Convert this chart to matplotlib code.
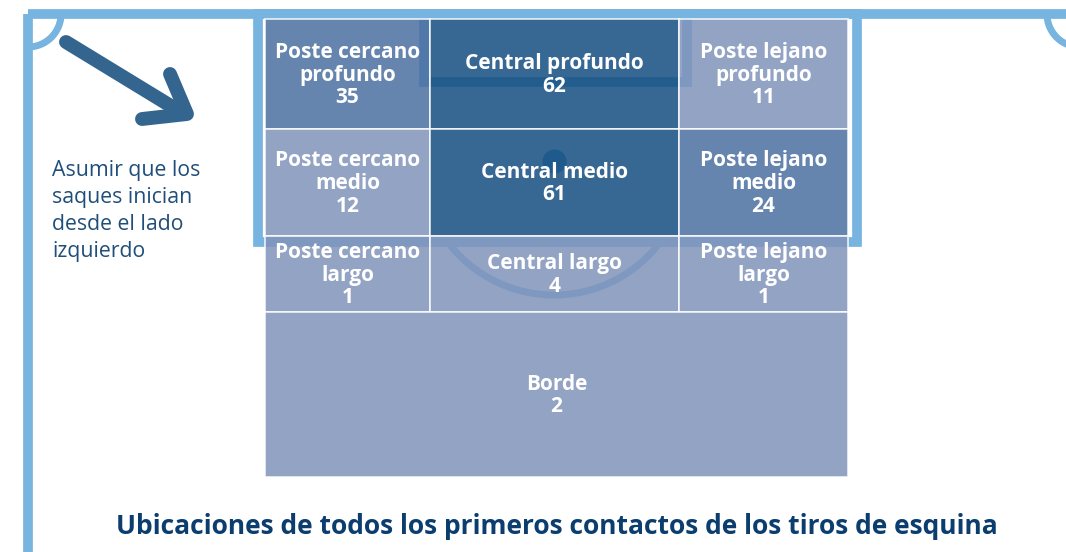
import numpy as np
import matplotlib.pyplot as plt
from matplotlib.patches import Rectangle
from matplotlib.colors import ListedColormap, BoundaryNorm

# ----------------------------------------------------
# Data: first contact zones of corner kicks
# ----------------------------------------------------

zone_names = [
    "Poste cercano\nprofundo", "Central profundo", "Poste lejano\nprofundo",
    "Poste cercano\nmedio", "Central medio", "Poste lejano\nmedio",
    "Poste cercano\nlargo", "Central largo", "Poste lejano\nlargo",
    "Borde",
]
zone_counts = [35, 62, 11, 12, 61, 24, 1, 4, 1, 2]

title = "Ubicaciones de todos los primeros contactos de los tiros de esquina"
note = "Asumir que los\nsaques inician\ndesde el lado\nizquierdo"

# ----------------------------------------------------
# Layout (pixel space of the 1066 x 552 canvas)
# ----------------------------------------------------

W, H = 1066, 552
col_edges = [265, 430, 679, 848]
row_edges = [19, 129, 236, 312, 477]

line_c = "#78b4e0"
navy = "#0b3d6f"
font = "Open Sans"

# colour tiers for the counts
cmap = ListedColormap(["#8093ba", "#4a6fa0", "#144e80"])
norm = BoundaryNorm([0, 20, 50, 100], cmap.N)

fig = plt.figure(figsize=(W / 100, H / 100), dpi=100)
ax = fig.add_axes([0, 0, 1, 1])
ax.set_xlim(0, W)
ax.set_ylim(H, 0)
ax.axis("off")

# ----------------------------------------------------
# Pitch lines (drawn under the zones)
# ----------------------------------------------------

lw = 7
ax.plot([28, W], [14, 14], color=line_c, lw=lw, zorder=1, solid_capstyle="butt")
ax.plot([28, 28], [14, H], color=line_c, lw=lw, zorder=1, solid_capstyle="butt")
ax.add_patch(Rectangle((258, 14), 857 - 258, 242 - 14, fill=False,
                       ec=line_c, lw=lw, zorder=1))
ax.add_patch(Rectangle((424, 14), 687 - 424, 82 - 14, fill=False,
                       ec=line_c, lw=lw, zorder=1))

t = np.linspace(0, np.pi / 2, 50)
ax.plot(28 + 33 * np.cos(t), 14 + 33 * np.sin(t), color=line_c, lw=lw - 2, zorder=1)
t = np.linspace(np.pi / 2, np.pi, 50)
ax.plot(1080 + 33 * np.cos(t), 14 + 33 * np.sin(t), color=line_c, lw=lw - 2, zorder=1)

# penalty spot and arc
ax.scatter([554], [161], s=300, color="#5f9fd8", zorder=1, lw=0)
t = np.linspace(np.radians(37), np.radians(143), 100)
ax.plot(554 + 133 * np.cos(t), 162 + 133 * np.sin(t), color=line_c, lw=lw - 2, zorder=1)

# ----------------------------------------------------
# Zones
# ----------------------------------------------------

cells = []
for r in range(3):
    for c in range(3):
        cells.append((col_edges[c], row_edges[r], col_edges[c + 1], row_edges[r + 1]))
cells.append((col_edges[0], row_edges[3], col_edges[3], row_edges[4]))

for (x0, y0, x1, y1), name, n in zip(cells, zone_names, zone_counts):
    ax.add_patch(Rectangle((x0, y0), x1 - x0, y1 - y0, fc=cmap(norm(n)),
                           ec="white", lw=1.2, alpha=0.85, zorder=2))
    ax.text((x0 + x1) / 2, (y0 + y1) / 2 + 1, f"{name}\n{n}", ha="center", va="center",
            color="white", fontsize=15, fontweight="bold", family=font,
            linespacing=1.12, zorder=3)

# ----------------------------------------------------
# Arrow + note + title
# ----------------------------------------------------

arrow_c = "#33658f"
ax.plot([66, 184], [42, 114], color=arrow_c, lw=10, solid_capstyle="round", zorder=3)
ax.plot([170, 187, 142], [74, 114, 119], color=arrow_c, lw=10,
        solid_capstyle="round", solid_joinstyle="round", zorder=3)

ax.text(52, 211, note, ha="left", va="center", color="#1f4e7a", fontsize=15.3,
        family=font, linespacing=1.37)

ax.text(557, 527, title, ha="center", va="center", color=navy, fontsize=19,
        fontweight="bold", family=font)

fig.savefig("out.png", dpi=100)
